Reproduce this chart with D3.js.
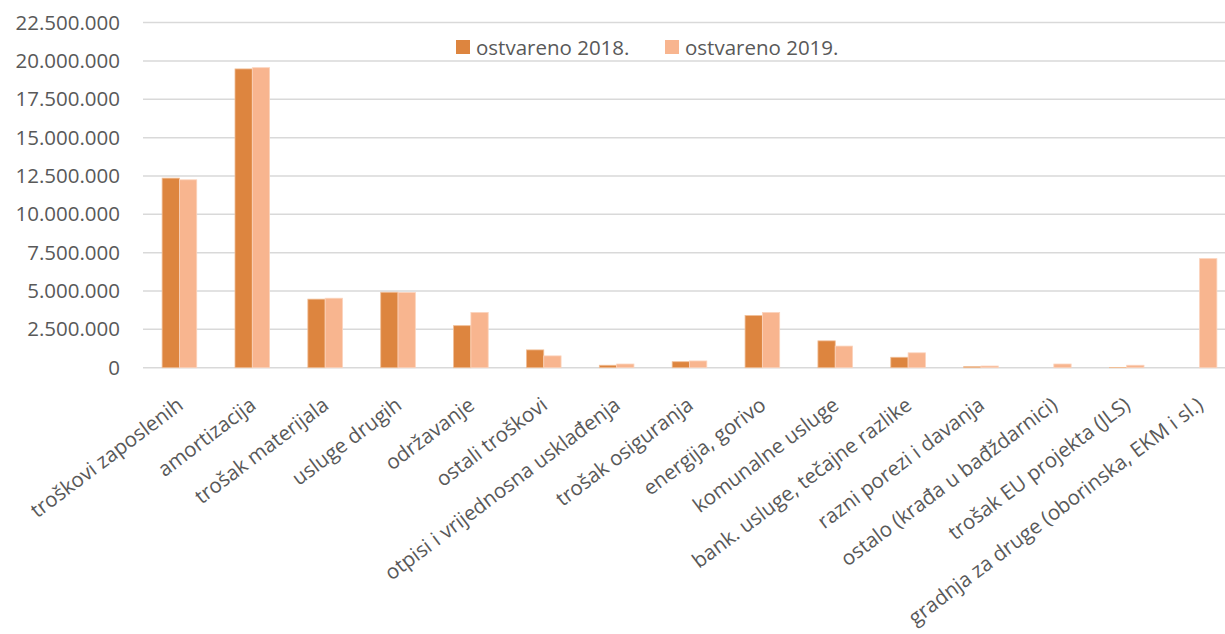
<!DOCTYPE html>
<html>
<head>
<meta charset="utf-8">
<script src="https://cdn.jsdelivr.net/npm/d3@7"></script>
<style>
html,body{margin:0;padding:0;background:#fff;}
svg{display:block;}
text{font-family:"Open Sans", sans-serif;fill:#595959;}
</style>
</head>
<body>
<svg id="chart" width="1225" height="634"></svg>
<script>
const categories = [
  "troškovi zaposlenih","amortizacija","trošak materijala","usluge drugih","održavanje",
  "ostali troškovi","otpisi i vrijednosna usklađenja","trošak osiguranja","energija, gorivo",
  "komunalne usluge","bank. usluge, tečajne razlike","razni porezi i davanja",
  "ostalo (krađa u bađždarnici)","trošak EU projekta (JLS)","gradnja za druge (oborinska, EKM i sl.)"
];
const seriesNames = ["ostvareno 2018.","ostvareno 2019."];
const values2018 = [12360000,19480000,4470000,4920000,2740000,1160000,160000,390000,3400000,1750000,680000,70000,0,20000,0];
const values2019 = [12250000,19560000,4530000,4900000,3600000,770000,240000,440000,3600000,1410000,970000,110000,240000,160000,7110000];
const yTicks = [0,2500000,5000000,7500000,10000000,12500000,15000000,17500000,20000000,22500000];
const colors = ["#DD853F","#F8B58F"];

const FS = 20.5;
const svg = d3.select("#chart");
const x = d3.scaleBand().domain(categories).range([143, 1236]).paddingInner(0.525).paddingOuter(0.2625);
const x1 = d3.scaleBand().domain(seriesNames).range([0, x.bandwidth()]);
const y = d3.scaleLinear().domain([0, 22500000]).range([367.7, 22.6]);

const fmt = d => d3.format(",")(d).replace(/,/g, ".");

// gridlines
svg.append("g").selectAll("line").data(yTicks).join("line")
  .attr("x1", 143).attr("x2", 1225)
  .attr("y1", d => y(d)).attr("y2", d => y(d))
  .attr("stroke", "#D9D9D9").attr("stroke-width", 1.5);

// y axis labels
const yAxis = d3.axisLeft(y).tickValues(yTicks).tickFormat(fmt).tickSize(0).tickPadding(0);
const gy = svg.append("g").attr("transform", "translate(120,0)").call(yAxis);
gy.select(".domain").remove();
gy.selectAll("text").attr("font-size", FS).attr("fill", "#595959")
  .style("font-family", "'Open Sans', sans-serif");

// bars
const data = categories.map((c, i) => ({c, v: [values2018[i], values2019[i]]}));
const groups = svg.append("g").selectAll("g").data(data).join("g")
  .attr("transform", d => `translate(${x(d.c)},0)`);
groups.selectAll("rect").data(d => d.v.map((v, j) => ({v, s: seriesNames[j], j}))).join("rect")
  .attr("x", d => x1(d.s))
  .attr("width", x1.bandwidth())
  .attr("y", d => y(d.v))
  .attr("height", d => y(0) - y(d.v))
  .attr("fill", d => colors[d.j])
  .attr("stroke", d => d.v > 0 ? (d.j === 0 ? "#F0BE96" : "#FBD3BC") : "none")
  .attr("stroke-width", 0.8);

// x labels
const xAxis = d3.axisBottom(x).tickSize(0).tickPadding(0);
const gx = svg.append("g").attr("transform", "translate(0,367.7)").call(xAxis);
gx.select(".domain").remove();
gx.selectAll("text")
  .attr("font-size", FS).attr("fill", "#595959")
  .style("font-family", "'Open Sans', sans-serif")
  .attr("text-anchor", "end")
  .attr("dy", null).attr("y", 0)
  .attr("transform", "translate(5,40) rotate(-37)");

// legend
const legend = svg.append("g");
const legX = [456, 665];
seriesNames.forEach((s, i) => {
  legend.append("rect").attr("x", legX[i]).attr("y", 40).attr("width", 14).attr("height", 14).attr("fill", colors[i]);
  legend.append("text").attr("x", legX[i] + 20).attr("y", 54.5).attr("font-size", FS).text(s);
});
</script>
</body>
</html>
